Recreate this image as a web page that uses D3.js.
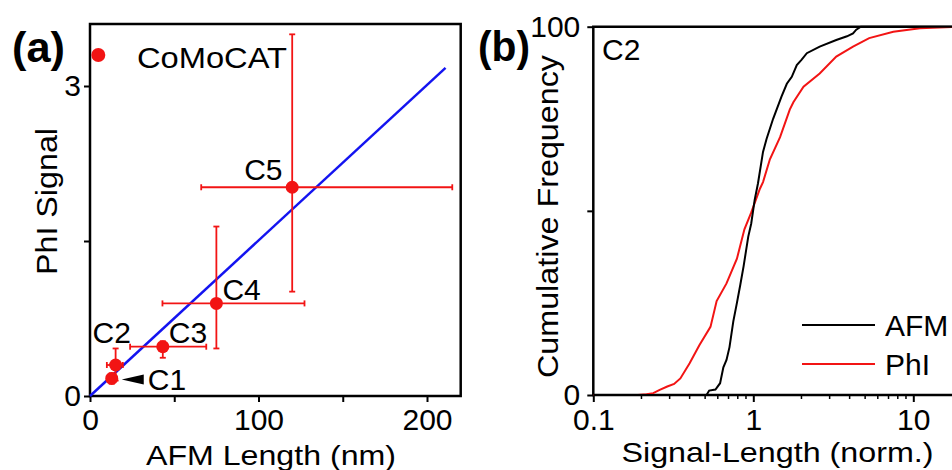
<!DOCTYPE html>
<html><head><meta charset="utf-8">
<script src="https://cdn.jsdelivr.net/npm/d3@7"></script>
<style>
body{margin:0;background:#fff}
svg text{font-family:"Liberation Sans",Arimo,Arial,sans-serif !important;fill:#000}
</style>
</head><body>
<svg id="c" width="952" height="470"></svg>
<script>
// ---- Panel (a) data ----
const samples   = ["C1", "C2", "C3", "C4", "C5"];
const afmLength = [12.9, 15.2, 43.2, 75.0, 120.0];
const afmLow    = [10.5, 10.0, 23.8, 43.0, 66.0];
const afmHigh   = [15.5, 19.5, 69.0, 127.3, 215.0];
const phiSignal = [0.17, 0.30, 0.477, 0.896, 2.02];
const phiLow    = [0.12, 0.15, 0.37, 0.46, 1.01];
const phiHigh   = [0.22, 0.46, 0.53, 1.64, 3.50];
const fitSlope  = 0.01505;
const fitRange  = [0, 211];
const aXTicks = [0, 50, 100, 150, 200];
const aXLabels = ["0", "", "100", "", "200"];
const aYTicks = [0, 1.5, 3];
const aYLabels = ["0", "", "3"];

// ---- Panel (b) data: cumulative frequency (%) vs normalized value ----
const afmValue = [0.1,0.51,0.53,0.58,0.62,0.65,0.68,0.71,0.75,0.79,0.83,0.87,0.93,0.97,1.02,1.07,1.15,1.21,1.33,1.5,1.62,1.74,1.87,2.0,2.16,2.6,3.3,3.85,4.2,4.4,4.7,100];
const afmCum   = [0,0,1.2,1.5,3.2,7.5,9.5,13,20,25,30,35,43,46.5,53,57.5,66,69.5,75,81,84.5,86.4,89.6,91,92.8,94.6,96.4,97.4,98.2,99.2,100,100];
const phiValue = [0.1,0.19,0.215,0.237,0.26,0.29,0.32,0.35,0.40,0.46,0.54,0.59,0.68,0.79,0.88,0.97,1.10,1.15,1.27,1.47,1.69,1.78,2.06,2.6,3.3,4.2,5.3,7.5,11,20,100];
const phiCum   = [0,0,0.2,0.5,1.4,2.3,3.0,4.5,8.6,13.5,18.5,25.5,30.3,37,45,49.5,56,57.8,64,70,77.5,79.5,83.7,87.3,91.9,94.6,96.9,98.6,99.6,100,100];
const bXTicks = [0.1, 1, 10];
const bXLabels = ["0.1", "1", "10"];
const bYTicks = [0, 50, 100];
const bYLabels = ["0", "", "100"];
const legendNames = ["AFM", "PhI"];

const RED = "#f21414", BLUE = "#1414f0";
const svg = d3.select("#c");
const FS = 30, TFS = 28;

// ================= Panel (a) =================
const ax = d3.scaleLinear().domain([0, 220]).range([90, 460.7]);
const ay = d3.scaleLinear().domain([0, 3.6]).range([396, 24]);
const ga = svg.append("g");

const axB = ga.append("g").attr("transform", `translate(0,${ay(0)})`)
  .call(d3.axisBottom(ax).tickValues(aXTicks).tickSize(6).tickPadding(7)
        .tickFormat((d,i) => aXLabels[i]));
const axL = ga.append("g").attr("transform", `translate(${ax(0)},0)`)
  .call(d3.axisLeft(ay).tickValues(aYTicks).tickSize(6).tickPadding(3)
        .tickFormat((d,i) => aYLabels[i]));
[axB, axL].forEach(g => {
  g.select(".domain").remove();
  g.attr("font-family", null);
  g.selectAll("line").attr("stroke", "#000").attr("stroke-width", 2);
  g.selectAll("text").attr("font-size", FS).attr("fill", "#000");
});
ga.append("rect").attr("x", ax(0)).attr("y", ay(3.6))
  .attr("width", ax(220) - ax(0)).attr("height", ay(0) - ay(3.6))
  .attr("fill", "none").attr("stroke", "#000").attr("stroke-width", 2.5);

// fit line
ga.append("line")
  .attr("x1", ax(fitRange[0])).attr("y1", ay(fitSlope * fitRange[0]))
  .attr("x2", ax(fitRange[1])).attr("y2", ay(fitSlope * fitRange[1]))
  .attr("stroke", BLUE).attr("stroke-width", 2.5);

// error bars
const cap = 3;
samples.forEach((s, i) => {
  const g = ga.append("g").attr("stroke", RED).attr("stroke-width", 1.8);
  const cx = ax(afmLength[i]), cy = ay(phiSignal[i]);
  g.append("line").attr("x1", ax(afmLow[i])).attr("x2", ax(afmHigh[i])).attr("y1", cy).attr("y2", cy);
  g.append("line").attr("x1", ax(afmLow[i])).attr("x2", ax(afmLow[i])).attr("y1", cy - cap).attr("y2", cy + cap);
  g.append("line").attr("x1", ax(afmHigh[i])).attr("x2", ax(afmHigh[i])).attr("y1", cy - cap).attr("y2", cy + cap);
  g.append("line").attr("x1", cx).attr("x2", cx).attr("y1", ay(phiLow[i])).attr("y2", ay(phiHigh[i]));
  g.append("line").attr("x1", cx - cap).attr("x2", cx + cap).attr("y1", ay(phiLow[i])).attr("y2", ay(phiLow[i]));
  g.append("line").attr("x1", cx - cap).attr("x2", cx + cap).attr("y1", ay(phiHigh[i])).attr("y2", ay(phiHigh[i]));
});
ga.selectAll("circle.pt").data(samples).enter().append("circle")
  .attr("class", "pt")
  .attr("cx", (d,i) => ax(afmLength[i])).attr("cy", (d,i) => ay(phiSignal[i]))
  .attr("r", 6.5).attr("fill", RED);

// point labels (offsets from the point)
const labelOff = {C1: [36, 12], C2: [-23, -22], C3: [6, -4], C4: [6, -3], C5: [-48, -7]};
samples.forEach((s, i) => {
  const o = labelOff[s];
  ga.append("text").attr("x", ax(afmLength[i]) + o[0]).attr("y", ay(phiSignal[i]) + o[1])
    .attr("font-size", FS).text(s);
});
{
  const px = ax(afmLength[0]) + 10, py = ay(phiSignal[0]) + 1;
  ga.append("path").attr("d", `M${px},${py} L${px + 22},${py - 5} L${px + 22},${py + 5} Z`).attr("fill", "#000");
}

// legend (a)
ga.append("circle").attr("cx", 98.3).attr("cy", 55).attr("r", 7).attr("fill", RED);
ga.append("text").attr("x", 137).attr("y", 68).attr("font-size", FS)
  .attr("textLength", 150).attr("lengthAdjust", "spacingAndGlyphs").text("CoMoCAT");

// titles (a)
ga.append("text").attr("x", 271).attr("y", 465).attr("text-anchor", "middle")
  .attr("font-size", TFS).attr("textLength", 250).attr("lengthAdjust", "spacingAndGlyphs")
  .text("AFM Length (nm)");
ga.append("text").attr("transform", "translate(57,201.5) rotate(-90)").attr("text-anchor", "middle")
  .attr("font-size", FS).attr("textLength", 147).attr("lengthAdjust", "spacingAndGlyphs")
  .text("PhI Signal");
ga.append("text").attr("x", 12).attr("y", 62).attr("font-size", 42).attr("font-weight", "bold")
  .attr("textLength", 53).attr("lengthAdjust", "spacingAndGlyphs").text("(a)");

// ================= Panel (b) =================
const bx = d3.scaleLog().domain([0.1, 100]).range([593.3, 1073.3]);
const by = d3.scaleLinear().domain([0, 100]).range([395, 26.7]);
const gb = svg.append("g");

const minor = [];
[0.1, 1, 10].forEach(d => { for (let k = 2; k <= 9; k++) minor.push(d * k); });
gb.append("g").selectAll("line").data(minor).enter().append("line")
  .attr("x1", d => bx(d)).attr("x2", d => bx(d)).attr("y1", by(0)).attr("y2", by(0) + 4)
  .attr("stroke", "#000").attr("stroke-width", 1.5);

const bB = gb.append("g").attr("transform", `translate(0,${by(0)})`)
  .call(d3.axisBottom(bx).tickValues(bXTicks).tickSize(7).tickPadding(7)
        .tickFormat((d,i) => bXLabels[i]));
const bL = gb.append("g").attr("transform", `translate(${bx(0.1)},0)`)
  .call(d3.axisLeft(by).tickValues(bYTicks).tickSize(6).tickPadding(7)
        .tickFormat((d,i) => bYLabels[i]));
[bB, bL].forEach(g => {
  g.select(".domain").remove();
  g.attr("font-family", null);
  g.selectAll("line").attr("stroke", "#000").attr("stroke-width", 2);
  g.selectAll("text").attr("font-size", FS).attr("fill", "#000");
});
gb.append("path")
  .attr("d", `M${bx(100)},${by(100)} H${bx(0.1)} V${by(0)} H${bx(100)}`)
  .attr("fill", "none").attr("stroke", "#000").attr("stroke-width", 2.5);

const line = d3.line().x(d => bx(d[0])).y(d => by(d[1]));
gb.append("path").datum(phiValue.map((v,i) => [v, phiCum[i]])).attr("d", line)
  .attr("fill", "none").attr("stroke", RED).attr("stroke-width", 2);
gb.append("path").datum(afmValue.map((v,i) => [v, afmCum[i]])).attr("d", line)
  .attr("fill", "none").attr("stroke", "#000").attr("stroke-width", 2);

// legend (b)
const legColors = ["#000", RED];
const legY = [325, 364];
legendNames.forEach((n, i) => {
  gb.append("line").attr("x1", 802).attr("x2", 875).attr("y1", legY[i]).attr("y2", legY[i])
    .attr("stroke", legColors[i]).attr("stroke-width", 2);
  gb.append("text").attr("x", 885).attr("y", legY[i] + 11).attr("font-size", FS).text(n);
});

gb.append("text").attr("x", 602).attr("y", 60).attr("font-size", FS).text("C2");
gb.append("text").attr("x", 777.5).attr("y", 462).attr("text-anchor", "middle")
  .attr("font-size", TFS).attr("textLength", 312).attr("lengthAdjust", "spacingAndGlyphs")
  .text("Signal-Length (norm.)");
gb.append("text").attr("transform", "translate(558,216.5) rotate(-90)").attr("text-anchor", "middle")
  .attr("font-size", FS).attr("textLength", 323).attr("lengthAdjust", "spacingAndGlyphs")
  .text("Cumulative Frequency");
gb.append("text").attr("x", 478).attr("y", 61).attr("font-size", 42).attr("font-weight", "bold")
  .attr("textLength", 52).attr("lengthAdjust", "spacingAndGlyphs").text("(b)");
</script>
</body></html>
